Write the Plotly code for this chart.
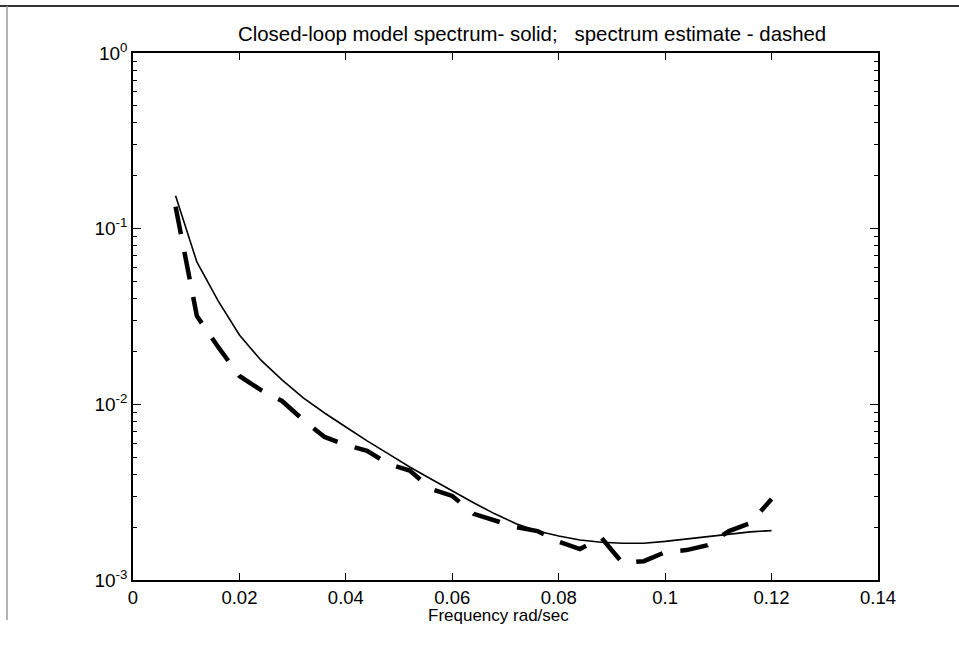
import plotly.graph_objects as go

freq = [0.008, 0.012, 0.016, 0.020, 0.024, 0.028, 0.032, 0.036, 0.040, 0.044,
        0.048, 0.052, 0.056, 0.060, 0.064, 0.068, 0.072, 0.076, 0.080, 0.084,
        0.088, 0.092, 0.096, 0.100, 0.104, 0.108, 0.112, 0.116, 0.120]

model_spectrum = [0.154, 0.0646, 0.0388, 0.0248, 0.0179, 0.01377, 0.01087, 0.00893,
                  0.00743, 0.00619, 0.00522, 0.0044, 0.00376, 0.00321, 0.00275,
                  0.00238, 0.00209, 0.0019, 0.00178, 0.00169, 0.00164, 0.00162,
                  0.00162, 0.00166, 0.00171, 0.00177, 0.00183, 0.00188, 0.00191]

estimate_spectrum = [0.1334, 0.03185, 0.02122, 0.0145, 0.01208, 0.01045, 0.00815,
                     0.00652, 0.00587, 0.00543, 0.00458, 0.0042, 0.0033, 0.00301,
                     0.00238, 0.00217, 0.0020, 0.0019, 0.00165, 0.0015, 0.00174,
                     0.00125, 0.00128, 0.00144, 0.00148, 0.00158, 0.0019, 0.00211,
                     0.00289]

x_ticks = [0, 0.02, 0.04, 0.06, 0.08, 0.10, 0.12, 0.14]
x_ticktext = ["0", "0.02", "0.04", "0.06", "0.08", "0.1", "0.12", "0.14"]
y_ticks = [1e-3, 1e-2, 1e-1, 1e0]
y_ticktext = ["10<sup>-3</sup>", "10<sup>-2</sup>", "10<sup>-1</sup>", "10<sup>0</sup>"]
y_minor = [m * d for d in (1e-3, 1e-2, 1e-1) for m in range(2, 10)]

title_text = "Closed-loop model spectrum- solid;\u00a0\u00a0\u00a0spectrum estimate - dashed"
x_title = "Frequency rad/sec"

FONT = "Liberation Sans, Arial, sans-serif"
W, H = 959, 647
ML, MR, MT, MB = 133, 81, 53, 67
PW, PH = W - ML - MR, H - MT - MB


def px(x):
    return (x - ML) / PW


def py(y):
    return 1 - (y - MT) / PH


fig = go.Figure()
fig.add_trace(go.Scatter(x=freq, y=model_spectrum, mode="lines",
                         line=dict(color="black", width=1.6), showlegend=False))
fig.add_trace(go.Scatter(x=freq, y=estimate_spectrum, mode="lines",
                         line=dict(color="black", width=4.5, dash="28px,18px"),
                         showlegend=False))

fig.update_layout(
    width=W, height=H,
    margin=dict(l=ML, r=MR, t=MT, b=MB),
    paper_bgcolor="white", plot_bgcolor="white",
    font=dict(family=FONT, size=18, color="black"),
    xaxis=dict(range=[0, 0.14], tickmode="array", tickvals=x_ticks, ticktext=x_ticktext,
               ticks="inside", ticklen=7, tickwidth=1, tickcolor="black",
               tickfont=dict(size=18.5),
               showline=True, linecolor="black", linewidth=1.5, mirror="ticks",
               showgrid=False, zeroline=False),
    yaxis=dict(type="log", range=[-3, 0], tickmode="array", tickvals=y_ticks,
               ticktext=y_ticktext, ticks="inside", ticklen=8, tickwidth=1,
               tickcolor="black", tickfont=dict(size=19),
               showline=True, linecolor="black", linewidth=1.5,
               mirror="ticks", showgrid=False, zeroline=False,
               minor=dict(tickmode="array", tickvals=y_minor, ticks="inside",
                          ticklen=4, tickwidth=1, tickcolor="black", showgrid=False)),
    annotations=[
        dict(text=title_text, xref="paper", yref="paper",
             x=px(236), y=py(34), xanchor="left", yanchor="middle",
             showarrow=False, font=dict(size=20.4)),
        dict(text=x_title, xref="paper", yref="paper",
             x=px(498), y=py(615), xanchor="center", yanchor="middle",
             showarrow=False, font=dict(size=17)),
    ],
    shapes=[
        dict(type="line", xref="paper", yref="paper", x0=px(0), x1=px(W),
             y0=py(6), y1=py(6), line=dict(color="#333333", width=2)),
        dict(type="line", xref="paper", yref="paper", x0=px(7), x1=px(7),
             y0=py(6), y1=py(620), line=dict(color="#999999", width=1.5)),
    ],
)

fig.write_html("out.html", config={"displayModeBar": False},
               post_script="document.body.style.margin='0';")
